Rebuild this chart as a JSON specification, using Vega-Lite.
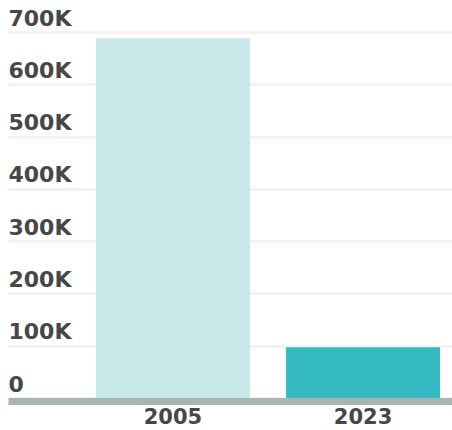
{
  "$schema": "https://vega.github.io/schema/vega-lite/v6.json",
  "width": 444,
  "height": 366,
  "autosize": "none",
  "padding": {"left": 8, "top": 32, "right": 0, "bottom": 32},
  "background": "white",
  "config": {"view": {"stroke": null}},
  "data": {"values": [
    {"year": "2005", "value": 688000},
    {"year": "2023", "value": 97000}
  ]},
  "mark": {"type": "bar"},
  "encoding": {
    "x": {
      "field": "year", "type": "nominal",
      "scale": {"paddingInner": 0.19, "paddingOuter": 0.263, "align": 0.88},
      "axis": {
        "title": null, "labelAngle": 0, "ticks": false, "tickSize": 0,
        "domainColor": "#a7b5b0", "domainWidth": 7, "offset": 3,
        "labelFont": "DejaVu Sans", "labelFontSize": 21, "labelFontWeight": "bold",
        "labelColor": "#474747", "labelPadding": 5, "labelBaseline": "top"
      }
    },
    "y": {
      "field": "value", "type": "quantitative",
      "scale": {"domain": [0, 700000]},
      "axis": {
        "title": null, "domain": false, "ticks": false, "tickSize": 0,
        "values": [0, 100000, 200000, 300000, 400000, 500000, 600000, 700000],
        "labelExpr": "datum.value == 0 ? '0' : (datum.value / 1000) + 'K'",
        "grid": true, "gridColor": "#f3f3f3", "gridWidth": 3,
        "labelAlign": "left", "labelBaseline": "alphabetic", "labelOffset": -7,
        "labelPadding": 0,
        "labelFont": "DejaVu Sans", "labelFontSize": 22, "labelFontWeight": "bold",
        "labelColor": "#474747"
      }
    },
    "color": {
      "field": "year", "type": "nominal",
      "scale": {"range": ["#c8e8ea", "#35b9c3"]},
      "legend": null
    }
  }
}
